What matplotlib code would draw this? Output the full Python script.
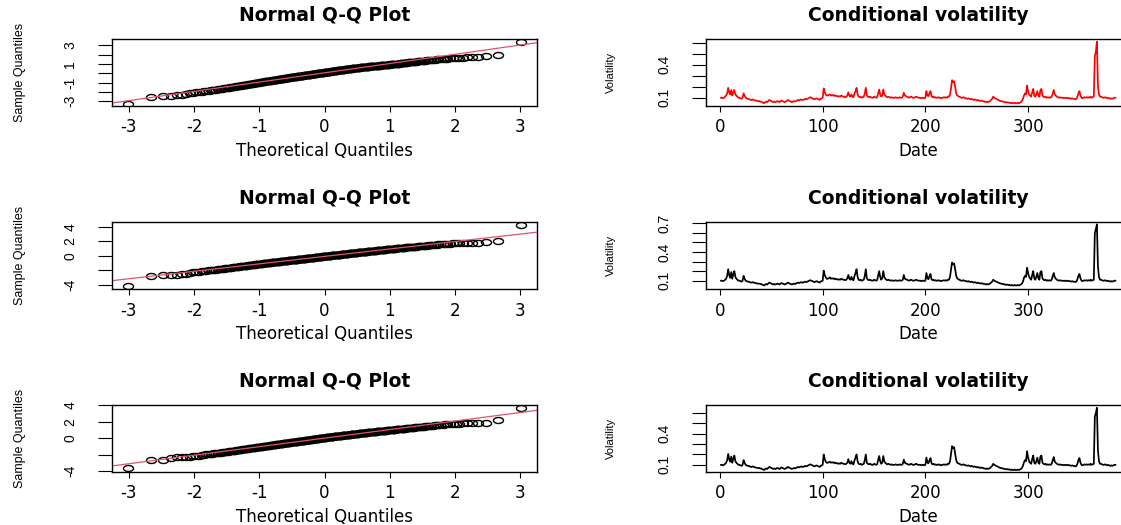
import numpy as np
import matplotlib
matplotlib.use("Agg")
import matplotlib.pyplot as plt
from matplotlib.path import Path
from statistics import NormalDist

# sample quantiles (sorted residuals)
qq1 = [
    -3.30, -2.50, -2.48, -2.45, -2.38, -2.30, -2.22, -2.15, -2.10, -2.05, -2.01, -1.97, -1.94, -1.90, -1.86, -1.83, -1.80, -1.77, -1.75, -1.72,
    -1.70, -1.67, -1.65, -1.62, -1.60, -1.58, -1.56, -1.54, -1.51, -1.49,
    -1.47, -1.45, -1.43, -1.41, -1.39, -1.37, -1.35, -1.33, -1.32, -1.30,
    -1.28, -1.27, -1.25, -1.24, -1.22, -1.21, -1.19, -1.18, -1.16, -1.15,
    -1.13, -1.12, -1.10, -1.09, -1.07, -1.06, -1.04, -1.03, -1.01, -1.00,
    -0.99, -0.98, -0.96, -0.95, -0.94, -0.93, -0.91, -0.90, -0.89, -0.88,
    -0.87, -0.86, -0.85, -0.84, -0.83, -0.82, -0.81, -0.80, -0.79, -0.78,
    -0.77, -0.76, -0.75, -0.74, -0.73, -0.72, -0.71, -0.70, -0.69, -0.68,
    -0.67, -0.66, -0.65, -0.64, -0.63, -0.62, -0.62, -0.61, -0.60, -0.59,
    -0.58, -0.57, -0.56, -0.55, -0.55, -0.54, -0.53, -0.52, -0.51, -0.50, -0.49, -0.48, -0.48, -0.47, -0.46, -0.45, -0.44, -0.44, -0.43, -0.42,
    -0.41, -0.40, -0.40, -0.39, -0.38, -0.37, -0.37, -0.36, -0.35, -0.34, -0.34, -0.33, -0.32, -0.31, -0.31, -0.30, -0.29, -0.28, -0.28, -0.27,
    -0.26, -0.26, -0.25, -0.24, -0.23, -0.23, -0.22, -0.21, -0.21, -0.20, -0.19, -0.18, -0.18, -0.17, -0.16, -0.16, -0.15, -0.14, -0.14, -0.13,
    -0.12, -0.12, -0.11, -0.10, -0.09, -0.09, -0.08, -0.07, -0.07, -0.06, -0.05, -0.04, -0.04, -0.03, -0.02, -0.02, -0.01, 0.00, 0.00, 0.01,
    0.02, 0.02, 0.03, 0.04, 0.04, 0.05, 0.06, 0.06, 0.07, 0.07, 0.08, 0.09, 0.09, 0.10, 0.11, 0.11, 0.12, 0.13, 0.13, 0.14,
    0.15, 0.15, 0.16, 0.17, 0.17, 0.18, 0.19, 0.20, 0.20, 0.21, 0.22, 0.22, 0.23, 0.24, 0.24, 0.25, 0.26, 0.27, 0.27, 0.28,
    0.29, 0.29, 0.30, 0.31, 0.31, 0.32, 0.33, 0.33, 0.34, 0.35, 0.35, 0.36, 0.37, 0.37, 0.38, 0.39, 0.39, 0.40, 0.40, 0.41,
    0.42, 0.42, 0.43, 0.44, 0.44, 0.45, 0.46, 0.47, 0.47, 0.48, 0.49, 0.49, 0.50, 0.51, 0.51, 0.52, 0.53, 0.54, 0.54, 0.55,
    0.56, 0.56, 0.57, 0.57, 0.58, 0.59, 0.59, 0.60, 0.60, 0.61, 0.62, 0.62, 0.63, 0.63, 0.64, 0.65, 0.65, 0.66, 0.66, 0.67,
    0.67, 0.68, 0.69, 0.69, 0.70, 0.70, 0.71, 0.71, 0.72, 0.72, 0.73, 0.74, 0.74, 0.75, 0.75, 0.76, 0.76, 0.77, 0.77, 0.78,
    0.79, 0.79, 0.80, 0.80, 0.81, 0.82, 0.82, 0.83, 0.83, 0.84,
    0.85, 0.85, 0.86, 0.87, 0.87, 0.88, 0.89, 0.89, 0.90, 0.91,
    0.92, 0.92, 0.93, 0.94, 0.95, 0.95, 0.96, 0.97, 0.98, 0.99,
    1.00, 1.01, 1.02, 1.02, 1.03, 1.04, 1.05, 1.06, 1.07, 1.08,
    1.09, 1.10, 1.11, 1.12, 1.13, 1.14, 1.16, 1.17, 1.18, 1.20,
    1.21, 1.22, 1.24, 1.25, 1.26, 1.27, 1.29, 1.30, 1.31, 1.33,
    1.35, 1.37, 1.39, 1.40, 1.42, 1.44, 1.46, 1.48, 1.50, 1.52,
    1.54, 1.55, 1.57, 1.58, 1.60, 1.62, 1.64, 1.66, 1.69, 1.72,
    1.76, 1.80, 1.84, 2.00, 3.40,
]

qq2 = [
    -4.20, -2.78, -2.70, -2.68, -2.64, -2.55, -2.45, -2.35, -2.28, -2.22, -2.17, -2.12, -2.08, -2.04, -2.00, -1.97, -1.94, -1.91, -1.88, -1.85,
    -1.82, -1.80, -1.77, -1.75, -1.72, -1.70, -1.68, -1.66, -1.64, -1.62,
    -1.60, -1.58, -1.56, -1.54, -1.52, -1.50, -1.48, -1.46, -1.45, -1.43,
    -1.41, -1.40, -1.38, -1.36, -1.35, -1.33, -1.32, -1.30, -1.29, -1.27,
    -1.26, -1.24, -1.23, -1.21, -1.20, -1.19, -1.17, -1.16, -1.14, -1.13,
    -1.12, -1.11, -1.09, -1.08, -1.07, -1.06, -1.05, -1.04, -1.02, -1.01,
    -1.00, -0.99, -0.98, -0.97, -0.96, -0.95, -0.94, -0.93, -0.92, -0.91,
    -0.90, -0.89, -0.88, -0.87, -0.86, -0.86, -0.85, -0.84, -0.83, -0.82,
    -0.81, -0.80, -0.80, -0.79, -0.78, -0.77, -0.77, -0.76, -0.75, -0.74,
    -0.73, -0.72, -0.72, -0.71, -0.70, -0.69, -0.68, -0.68, -0.67, -0.66, -0.65, -0.64, -0.64, -0.63, -0.62, -0.61, -0.60, -0.60, -0.59, -0.58,
    -0.57, -0.57, -0.56, -0.55, -0.54, -0.54, -0.53, -0.52, -0.51, -0.51, -0.50, -0.49, -0.48, -0.48, -0.47, -0.46, -0.45, -0.45, -0.44, -0.43,
    -0.42, -0.42, -0.41, -0.40, -0.40, -0.39, -0.38, -0.37, -0.37, -0.36, -0.35, -0.35, -0.34, -0.33, -0.32, -0.32, -0.31, -0.30, -0.30, -0.29,
    -0.28, -0.28, -0.27, -0.26, -0.25, -0.25, -0.24, -0.23, -0.23, -0.22, -0.21, -0.20, -0.20, -0.19, -0.18, -0.18, -0.17, -0.16, -0.16, -0.15,
    -0.14, -0.14, -0.13, -0.12, -0.11, -0.11, -0.10, -0.09, -0.09, -0.08, -0.07, -0.06, -0.06, -0.05, -0.04, -0.04, -0.03, -0.02, -0.02, -0.01,
    0.00, 0.00, 0.01, 0.02, 0.02, 0.03, 0.04, 0.04, 0.05, 0.05, 0.06, 0.07, 0.07, 0.08, 0.09, 0.09, 0.10, 0.11, 0.11, 0.12,
    0.13, 0.13, 0.14, 0.15, 0.15, 0.16, 0.17, 0.17, 0.18, 0.18, 0.19, 0.20, 0.20, 0.21, 0.22, 0.22, 0.23, 0.24, 0.24, 0.25,
    0.26, 0.26, 0.27, 0.28, 0.29, 0.29, 0.30, 0.31, 0.32, 0.32, 0.33, 0.34, 0.35, 0.35, 0.36, 0.37, 0.38, 0.38, 0.39, 0.40,
    0.41, 0.41, 0.42, 0.43, 0.43, 0.44, 0.45, 0.46, 0.46, 0.47, 0.48, 0.48, 0.49, 0.50, 0.51, 0.51, 0.52, 0.53, 0.53, 0.54,
    0.55, 0.56, 0.56, 0.57, 0.58, 0.59, 0.60, 0.60, 0.61, 0.62, 0.63, 0.64, 0.64, 0.65, 0.66, 0.67, 0.68, 0.68, 0.69, 0.70,
    0.71, 0.72, 0.73, 0.74, 0.74, 0.75, 0.76, 0.77, 0.78, 0.79,
    0.80, 0.81, 0.82, 0.83, 0.83, 0.84, 0.85, 0.86, 0.87, 0.88,
    0.89, 0.90, 0.91, 0.92, 0.93, 0.94, 0.95, 0.96, 0.97, 0.98,
    0.99, 1.00, 1.01, 1.02, 1.03, 1.04, 1.06, 1.07, 1.08, 1.09,
    1.10, 1.11, 1.12, 1.14, 1.15, 1.16, 1.17, 1.18, 1.20, 1.21,
    1.22, 1.24, 1.25, 1.27, 1.28, 1.30, 1.31, 1.33, 1.34, 1.36,
    1.38, 1.39, 1.41, 1.43, 1.45, 1.47, 1.49, 1.51, 1.53, 1.56,
    1.58, 1.60, 1.63, 1.65, 1.68, 1.70, 1.72, 1.74, 1.76, 1.77,
    1.79, 1.81, 1.90, 2.08, 4.30,
]

qq3 = [
    -3.65, -2.68, -2.66, -2.45, -2.32, -2.28, -2.25, -2.22, -2.18, -2.15, -2.10, -2.05, -2.01, -1.97, -1.93, -1.90, -1.87, -1.84, -1.81, -1.78,
    -1.75, -1.73, -1.70, -1.68, -1.65, -1.63, -1.61, -1.59, -1.57, -1.55,
    -1.53, -1.51, -1.49, -1.47, -1.45, -1.43, -1.41, -1.40, -1.38, -1.36,
    -1.34, -1.33, -1.31, -1.30, -1.28, -1.27, -1.25, -1.24, -1.22, -1.21,
    -1.20, -1.18, -1.17, -1.15, -1.14, -1.13, -1.11, -1.10, -1.08, -1.07,
    -1.06, -1.05, -1.03, -1.02, -1.01, -1.00, -0.99, -0.97, -0.96, -0.95,
    -0.94, -0.93, -0.92, -0.91, -0.90, -0.89, -0.88, -0.87, -0.85, -0.84,
    -0.83, -0.82, -0.81, -0.80, -0.79, -0.78, -0.77, -0.76, -0.75, -0.74,
    -0.73, -0.72, -0.71, -0.70, -0.69, -0.69, -0.68, -0.67, -0.66, -0.65,
    -0.64, -0.63, -0.62, -0.62, -0.61, -0.60, -0.59, -0.58, -0.57, -0.56, -0.55, -0.55, -0.54, -0.53, -0.52, -0.51, -0.50, -0.50, -0.49, -0.48,
    -0.47, -0.46, -0.46, -0.45, -0.44, -0.43, -0.42, -0.42, -0.41, -0.40, -0.39, -0.38, -0.38, -0.37, -0.36, -0.35, -0.34, -0.34, -0.33, -0.32,
    -0.31, -0.31, -0.30, -0.29, -0.28, -0.28, -0.27, -0.26, -0.25, -0.25, -0.24, -0.23, -0.22, -0.22, -0.21, -0.20, -0.19, -0.19, -0.18, -0.17,
    -0.16, -0.16, -0.15, -0.14, -0.13, -0.13, -0.12, -0.11, -0.10, -0.10, -0.09, -0.08, -0.07, -0.07, -0.06, -0.05, -0.04, -0.04, -0.03, -0.02,
    -0.01, -0.01, 0.00, 0.01, 0.01, 0.02, 0.03, 0.04, 0.04, 0.05, 0.06, 0.06, 0.07, 0.08, 0.09, 0.09, 0.10, 0.11, 0.11, 0.12,
    0.13, 0.13, 0.14, 0.15, 0.15, 0.16, 0.17, 0.17, 0.18, 0.18, 0.19, 0.20, 0.20, 0.21, 0.22, 0.22, 0.23, 0.24, 0.24, 0.25,
    0.26, 0.26, 0.27, 0.28, 0.28, 0.29, 0.30, 0.30, 0.31, 0.31, 0.32, 0.33, 0.33, 0.34, 0.35, 0.35, 0.36, 0.37, 0.37, 0.38,
    0.39, 0.39, 0.40, 0.41, 0.41, 0.42, 0.43, 0.44, 0.44, 0.45, 0.46, 0.46, 0.47, 0.48, 0.48, 0.49, 0.50, 0.51, 0.51, 0.52,
    0.53, 0.53, 0.54, 0.55, 0.55, 0.56, 0.57, 0.58, 0.58, 0.59, 0.60, 0.60, 0.61, 0.62, 0.62, 0.63, 0.64, 0.65, 0.65, 0.66,
    0.67, 0.67, 0.68, 0.69, 0.69, 0.70, 0.71, 0.72, 0.72, 0.73, 0.74, 0.74, 0.75, 0.76, 0.76, 0.77, 0.78, 0.79, 0.79, 0.80,
    0.81, 0.81, 0.82, 0.83, 0.83, 0.84, 0.85, 0.85, 0.86, 0.87,
    0.88, 0.89, 0.89, 0.90, 0.91, 0.92, 0.93, 0.93, 0.94, 0.95,
    0.96, 0.97, 0.98, 0.99, 1.00, 1.00, 1.01, 1.02, 1.03, 1.04,
    1.05, 1.06, 1.07, 1.08, 1.09, 1.10, 1.11, 1.12, 1.13, 1.14,
    1.15, 1.16, 1.18, 1.19, 1.20, 1.21, 1.22, 1.24, 1.25, 1.26,
    1.27, 1.29, 1.30, 1.32, 1.33, 1.35, 1.36, 1.38, 1.39, 1.41,
    1.43, 1.44, 1.46, 1.48, 1.50, 1.52, 1.54, 1.56, 1.59, 1.61,
    1.63, 1.65, 1.68, 1.70, 1.72, 1.74, 1.76, 1.79, 1.80, 1.81,
    1.82, 1.84, 1.87, 2.20, 3.70,
]

# conditional volatility series, one value per date index 1..385
vol1 = [
    .100, .100, .095, .100, .110, .120, .140, .190, .150, .130, .170, .120, .150, .170, .130, .120, .110, .100, .100, .095,
    .090, .100, .140, .120, .100, .095, .090, .090, .085, .080, .080, .085, .080, .075, .075, .070, .070, .070, .065, .065,
    .060, .055, .050, .060, .065, .060, .070, .080, .075, .070, .065, .060, .065, .060, .065, .070, .065, .060, .070, .075,
    .070, .065, .060, .065, .070, .080, .075, .070, .065, .060, .065, .070, .065, .070, .075, .080, .075, .080, .085, .080,
    .080, .085, .090, .085, .090, .095, .100, .105, .100, .095, .090, .085, .090, .095, .090, .085, .080, .090, .095, .100,
    .185, .150, .130, .120, .120, .125, .130, .120, .125, .120, .125, .115, .120, .115, .110, .115, .110, .120, .115, .110,
    .110, .105, .110, .120, .150, .120, .110, .130, .110, .105, .140, .160, .190, .130, .110, .105, .110, .100, .105, .110,
    .140, .190, .120, .110, .105, .110, .105, .100, .100, .110, .105, .100, .105, .140, .175, .130, .110, .120, .175, .130,
    .120, .110, .105, .110, .105, .100, .105, .100, .100, .100, .105, .100, .100, .100, .105, .100, .100, .110, .145, .120,
    .115, .110, .105, .100, .105, .110, .105, .100, .100, .105, .110, .105, .100, .100, .100, .095, .100, .100, .095, .100,
    .160, .120, .115, .140, .160, .115, .105, .110, .100, .105, .100, .100, .105, .100, .095, .100, .100, .105, .100, .105,
    .100, .110, .110, .130, .190, .260, .240, .250, .200, .140, .120, .115, .110, .105, .100, .100, .105, .100, .095, .095,
    .090, .095, .090, .085, .090, .085, .080, .085, .080, .075, .080, .075, .070, .075, .070, .070, .065, .065, .060, .065,
    .060, .065, .070, .080, .090, .110, .100, .095, .090, .085, .080, .075, .070, .070, .065, .065, .060, .060, .055, .060,
    .055, .055, .050, .055, .050, .050, .055, .050, .050, .055, .050, .055, .060, .070, .090, .120, .140, .130, .210, .160,
    .130, .120, .110, .150, .180, .120, .110, .130, .160, .120, .110, .170, .180, .120, .110, .105, .110, .100, .105, .100,
    .105, .100, .110, .140, .170, .130, .120, .110, .105, .100, .105, .100, .100, .100, .095, .100, .100, .095, .100, .095,
    .095, .090, .095, .090, .090, .085, .090, .110, .140, .160, .120, .100, .095, .100, .105, .100, .105, .100, .105, .100,
    .110, .100, .105, .110, .480, .520, .610, .210, .130, .110, .110, .105, .100, .100, .105, .100, .095, .100, .095, .090,
    .095, .090, .095, .100, .100,
]

vol2 = [
    .100, .100, .095, .100, .110, .120, .150, .220, .160, .130, .190, .120, .170, .200, .140, .120, .110, .100, .100, .095,
    .090, .100, .150, .120, .100, .095, .090, .090, .085, .080, .080, .085, .080, .075, .075, .070, .070, .070, .065, .065,
    .060, .055, .050, .060, .065, .060, .070, .080, .075, .070, .065, .060, .065, .060, .065, .070, .065, .060, .070, .075,
    .070, .065, .060, .065, .070, .080, .075, .070, .065, .060, .065, .070, .065, .070, .075, .080, .075, .080, .085, .080,
    .080, .085, .090, .085, .090, .095, .100, .105, .100, .095, .090, .085, .090, .095, .090, .085, .080, .090, .095, .100,
    .205, .160, .135, .120, .120, .125, .135, .120, .125, .120, .125, .115, .120, .115, .110, .115, .110, .120, .115, .110,
    .110, .105, .110, .125, .160, .120, .110, .140, .110, .105, .150, .180, .220, .140, .110, .105, .110, .100, .105, .110,
    .150, .220, .125, .110, .105, .110, .105, .100, .100, .110, .105, .100, .105, .150, .200, .140, .110, .125, .200, .140,
    .120, .110, .105, .110, .105, .100, .105, .100, .100, .100, .105, .100, .100, .100, .105, .100, .100, .110, .160, .120,
    .115, .110, .105, .100, .105, .110, .105, .100, .100, .105, .110, .105, .100, .100, .100, .095, .100, .100, .095, .100,
    .180, .125, .115, .150, .170, .115, .105, .110, .100, .105, .100, .100, .105, .100, .095, .100, .100, .105, .100, .105,
    .100, .110, .110, .140, .220, .290, .270, .280, .220, .150, .125, .115, .110, .105, .100, .100, .105, .100, .095, .095,
    .090, .095, .090, .085, .090, .085, .080, .085, .080, .075, .080, .075, .070, .075, .070, .070, .065, .065, .060, .065,
    .060, .065, .070, .080, .090, .110, .100, .095, .090, .085, .080, .075, .070, .070, .065, .065, .060, .060, .055, .060,
    .055, .055, .050, .055, .050, .050, .055, .050, .050, .055, .050, .055, .060, .070, .090, .130, .150, .140, .235, .180,
    .140, .125, .110, .160, .200, .125, .110, .140, .180, .125, .110, .190, .200, .125, .110, .105, .110, .100, .105, .100,
    .105, .100, .110, .150, .180, .135, .120, .110, .105, .100, .105, .100, .100, .100, .095, .100, .100, .095, .100, .095,
    .095, .090, .095, .090, .090, .085, .090, .115, .150, .170, .125, .100, .095, .100, .105, .100, .105, .100, .105, .100,
    .110, .100, .105, .110, .600, .640, .690, .250, .140, .110, .110, .105, .100, .100, .105, .100, .095, .100, .095, .090,
    .095, .090, .095, .100, .100,
]

vol3 = [
    .100, .100, .095, .100, .110, .120, .145, .205, .155, .130, .180, .120, .160, .190, .135, .120, .110, .100, .100, .095,
    .090, .100, .145, .120, .100, .095, .090, .090, .085, .080, .080, .085, .080, .075, .075, .070, .070, .070, .065, .065,
    .060, .055, .050, .060, .065, .060, .070, .080, .075, .070, .065, .060, .065, .060, .065, .070, .065, .060, .070, .075,
    .070, .065, .060, .065, .070, .080, .075, .070, .065, .060, .065, .070, .065, .070, .075, .080, .075, .080, .085, .080,
    .080, .085, .090, .085, .090, .095, .100, .105, .100, .095, .090, .085, .090, .095, .090, .085, .080, .090, .095, .100,
    .200, .155, .130, .120, .120, .125, .130, .120, .125, .120, .125, .115, .120, .115, .110, .115, .110, .120, .115, .110,
    .110, .105, .110, .120, .155, .120, .110, .135, .110, .105, .145, .170, .200, .135, .110, .105, .110, .100, .105, .110,
    .145, .200, .120, .110, .105, .110, .105, .100, .100, .110, .105, .100, .105, .145, .185, .135, .110, .120, .185, .135,
    .120, .110, .105, .110, .105, .100, .105, .100, .100, .100, .105, .100, .100, .100, .105, .100, .100, .110, .150, .120,
    .115, .110, .105, .100, .105, .110, .105, .100, .100, .105, .110, .105, .100, .100, .100, .095, .100, .100, .095, .100,
    .170, .120, .115, .145, .165, .115, .105, .110, .100, .105, .100, .100, .105, .100, .095, .100, .100, .105, .100, .105,
    .100, .110, .110, .135, .210, .280, .260, .270, .210, .145, .120, .115, .110, .105, .100, .100, .105, .100, .095, .095,
    .090, .095, .090, .085, .090, .085, .080, .085, .080, .075, .080, .075, .070, .075, .070, .070, .065, .065, .060, .065,
    .060, .065, .070, .080, .090, .110, .100, .095, .090, .085, .080, .075, .070, .070, .065, .065, .060, .060, .055, .060,
    .055, .055, .050, .055, .050, .050, .055, .050, .050, .055, .050, .055, .060, .070, .090, .125, .145, .135, .230, .170,
    .135, .120, .110, .155, .190, .120, .110, .135, .170, .120, .110, .180, .190, .120, .110, .105, .110, .100, .105, .100,
    .105, .100, .110, .145, .175, .130, .120, .110, .105, .100, .105, .100, .100, .100, .095, .100, .100, .095, .100, .095,
    .095, .090, .095, .090, .090, .085, .090, .110, .145, .165, .120, .100, .095, .100, .105, .100, .105, .100, .105, .100,
    .110, .100, .105, .110, .565, .600, .650, .245, .135, .110, .110, .105, .100, .100, .105, .100, .095, .100, .095, .090,
    .095, .090, .095, .100, .100,
]

qq_xticks = [-3, -2, -1, 0, 1, 2, 3]
qq_xlabels = ["-3", "-2", "-1", "0", "1", "2", "3"]
qq_yticks = [[-3, -2, -1, 0, 1, 2, 3], [-4, -2, 0, 2, 4], [-4, -2, 0, 2, 4]]
qq_ylabels = [["-3", "", "-1", "", "1", "", "3"], ["-4", "", "0", "2", "4"], ["-4", "", "0", "2", "4"]]
vol_xticks = [0, 100, 200, 300]
vol_xlabels = ["0", "100", "200", "300"]
vol_yticks = [[0.1, 0.2, 0.3, 0.4, 0.5, 0.6], [0.1, 0.2, 0.3, 0.4, 0.5, 0.6, 0.7], [0.1, 0.2, 0.3, 0.4, 0.5, 0.6]]
vol_ylabels = [["0.1", "", "", "0.4", "", ""], ["0.1", "", "", "0.4", "", "", "0.7"], ["0.1", "", "", "0.4", "", ""]]
vol_colors = ["#FF0000", "black", "black"]

W, H = 1121, 525
ROW_TOP = [39, 222, 405]
BOX_H = 67
BOX_W = 425
QQ_YLIM = [(-3.51, 3.68), (-4.56, 4.65), (-4.10, 4.05)]
VOL_YLIM = [(0.025, 0.634), (0.013, 0.714), (0.031, 0.677)]

unit = Path.unit_circle()
ellipse = Path(unit.vertices * np.array([1.0, 0.6]), unit.codes)


def box(x0, top):
    return [x0 / W, 1 - (top + BOX_H) / H, BOX_W / W, BOX_H / H]


def r_style(ax, yticks, ylabels):
    for s in ax.spines.values():
        s.set_linewidth(1.0)
        s.set_color("black")
    ax.tick_params(axis="x", length=4, width=0.8, pad=5, labelsize=12)
    ax.tick_params(axis="y", length=10, width=0.8, pad=15)
    ax.set_yticks(yticks)
    ax.set_yticklabels(ylabels, rotation=90, va="center", fontsize=10, family="Liberation Sans")


def qq_panel(ax, sample, k):
    nd = NormalDist()
    y = np.sort(np.array(sample))
    n = len(y)
    x = np.array([nd.inv_cdf((i - 0.5) / n) for i in range(1, n + 1)])
    ax.plot(x, y, linestyle="none", marker=ellipse, ms=7.2, mfc="none", mec="black", mew=1.0)
    # qqline through the quartiles, as R does
    q = np.quantile(y, [0.25, 0.75])
    t = [nd.inv_cdf(0.25), nd.inv_cdf(0.75)]
    slope = (q[1] - q[0]) / (t[1] - t[0])
    ax.axline((0, q[0] - slope * t[0]), slope=slope, color="#DF536B", lw=0.9)
    ax.set_xlim(-3.26, 3.26)
    ax.set_ylim(*QQ_YLIM[k])
    ax.set_xticks(qq_xticks)
    ax.set_xticklabels(qq_xlabels)
    r_style(ax, qq_yticks[k], qq_ylabels[k])
    ax.set_title("Normal Q-Q Plot", fontweight="bold", fontsize=13.5, pad=13)
    ax.set_xlabel("Theoretical Quantiles", fontsize=12)
    ax.xaxis.set_label_coords(0.5, -36 / BOX_H)
    ax.set_ylabel("Sample Quantiles", fontsize=9, family="Liberation Sans")
    ax.yaxis.set_label_coords(-86 / BOX_W, 0.5)


def vol_panel(ax, series, k):
    x = np.arange(1, len(series) + 1)
    ax.plot(x, series, color=vol_colors[k], lw=1.25)
    ax.set_xlim(-13.6, 400.2)
    ax.set_ylim(*VOL_YLIM[k])
    ax.set_xticks(vol_xticks)
    ax.set_xticklabels(vol_xlabels)
    r_style(ax, vol_yticks[k], vol_ylabels[k])
    ax.set_title("Conditional volatility", fontweight="bold", fontsize=13.5, pad=13)
    ax.set_xlabel("Date", fontsize=12)
    ax.xaxis.set_label_coords(0.5, -36 / BOX_H)
    ax.set_ylabel("Volatility", fontsize=8, family="Liberation Sans")
    ax.yaxis.set_label_coords(-90 / BOX_W, 0.5)


fig = plt.figure(figsize=(W / 100, H / 100), dpi=100)
fig.patch.set_facecolor("white")

samples = [qq1, qq2, qq3]
vols = [vol1, vol2, vol3]
for k in range(3):
    qq_panel(fig.add_axes(box(112, ROW_TOP[k])), samples[k], k)
    vol_panel(fig.add_axes(box(706, ROW_TOP[k])), vols[k], k)

fig.savefig("out.png", dpi=100)
